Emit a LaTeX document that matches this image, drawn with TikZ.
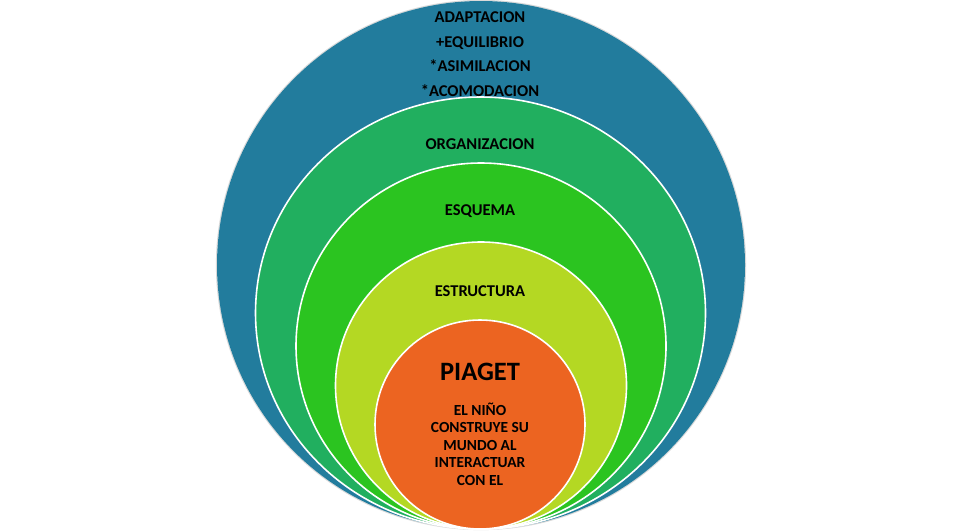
\documentclass[tikz,border=0pt]{standalone}
\usepackage{fontspec}
\setmainfont{Carlito}
\usetikzlibrary{shapes.geometric}
\definecolor{cblue}{RGB}{34,124,157}
\definecolor{cteal}{RGB}{33,175,95}
\definecolor{cgreen}{RGB}{43,196,32}
\definecolor{clime}{RGB}{180,216,35}
\definecolor{corange}{RGB}{236,100,33}
\tikzset{
  ring/.style={draw=white, line width=1.6pt},
  lbl/.style={font=\bfseries\fontsize{16.5}{24.5}\selectfont, align=center, inner sep=0pt, text=black},
  small/.style={font=\bfseries\fontsize{15.4}{17.4}\selectfont, align=center, inner sep=0pt, text=black},
}
\begin{document}
\begin{tikzpicture}[x=1pt,y=-1pt]
\useasboundingbox (0,0) rectangle (960,531);
\fill[white] (0,0) rectangle (960,531);
% outer soft outline
\draw[draw=black!15, line width=1.2pt] (481,265) ellipse [x radius=264.5, y radius=264.5];
\fill[cblue] (481,265) ellipse [x radius=264, y radius=264];
\filldraw[ring, fill=cteal] (480.5,313) ellipse [x radius=225, y radius=216];
\filldraw[ring, fill=cgreen] (481,346) ellipse [x radius=185, y radius=183];
\filldraw[ring, fill=clime] (481,385.5) ellipse [x radius=145.5, y radius=143.5];
\filldraw[ring, fill=corange] (480,424.5) ellipse [x radius=105, y radius=104.5];
% labels
\node[lbl] (adapt) at (480,54) {ADAPTACION\\+EQUILIBRIO\\*ASIMILACION\\*ACOMODACION};
\node[lbl] (org) at (480,144) {ORGANIZACION};
\node[lbl] (esq) at (480,211) {ESQUEMA};
\node[lbl] (est) at (480,291) {ESTRUCTURA};
\node[font=\bfseries\fontsize{26.5}{30}\selectfont, inner sep=0pt] (piaget) at (480,372) {PIAGET};
\node[small] (nino) at (480,444) {EL NIÑO\\CONSTRUYE SU\\MUNDO AL\\INTERACTUAR\\CON EL};
\end{tikzpicture}
\end{document}
